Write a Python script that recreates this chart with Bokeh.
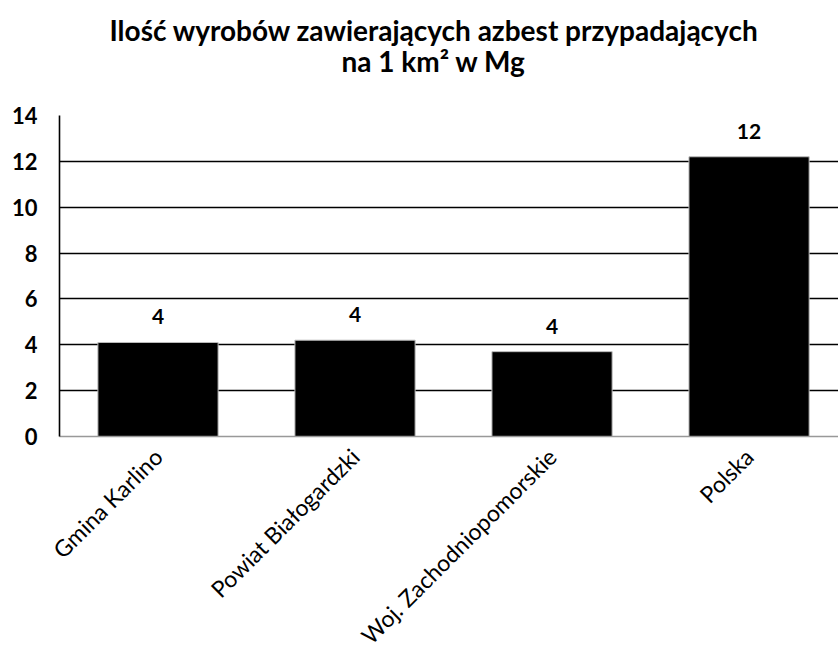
from bokeh.plotting import figure
from bokeh.models import Range1d, ColumnDataSource, Title, FixedTicker, LabelSet
from bokeh.core.properties import value
from bokeh.embed import file_html
from bokeh.resources import INLINE
import math

categories = ["Gmina Karlino", "Powiat Białogardzki", "Woj. Zachodniopomorskie", "Polska"]
values = [4.1, 4.2, 3.7, 12.2]
value_labels = ["4", "4", "4", "12"]
y_ticks = [0, 2, 4, 6, 8, 10, 12, 14]
title_line1 = "Ilość wyrobów zawierających azbest przypadających"
title_line2 = "na 1 km² w Mg"

FONT = "Lato"
xs = list(range(len(categories)))

p = figure(width=838, height=662, output_backend="svg", toolbar_location=None,
           x_range=Range1d(-0.5, 3.454), y_range=Range1d(0, 14),
           min_border_left=59, min_border_right=0, min_border_top=115,
           min_border_bottom=226, title=None)
p.outline_line_color = None

src = ColumnDataSource(dict(x=xs, top=values, lab=value_labels,
                            ly=[v for v in values]))
p.vbar(x="x", top="top", width=0.61, source=src, fill_color="black",
       line_color="#bbbbbb", line_width=1)

labels = LabelSet(x="x", y="ly", text="lab", source=src, text_align="center",
                  text_baseline="bottom", y_offset=18, text_font=value(FONT),
                  text_font_style="bold", text_font_size="21px", text_color="black")
p.add_layout(labels)

# grid
p.xgrid.grid_line_color = None
p.ygrid.ticker = FixedTicker(ticks=y_ticks)
p.ygrid.grid_line_color = "black"
p.ygrid.grid_line_width = 1.6
p.ygrid.grid_line_alpha = 1.0

# y axis
p.yaxis.ticker = FixedTicker(ticks=y_ticks)
p.yaxis.axis_line_color = "black"
p.yaxis.axis_line_width = 1.6
p.yaxis.major_tick_line_color = None
p.yaxis.minor_tick_line_color = None
p.yaxis.major_tick_out = 0
p.yaxis.major_tick_in = 0
p.yaxis.major_label_standoff = 22
p.yaxis.major_label_text_font = FONT
p.yaxis.major_label_text_font_style = "bold"
p.yaxis.major_label_text_font_size = "22px"
p.yaxis.major_label_text_color = "black"

# x axis
p.xaxis.ticker = FixedTicker(ticks=xs)
p.xaxis.major_label_overrides = {i: c for i, c in zip(xs, categories)}
p.xaxis.major_label_orientation = math.pi / 4
p.xaxis.axis_line_color = "#999999"
p.xaxis.axis_line_width = 1.6
p.xaxis.major_tick_line_color = None
p.xaxis.minor_tick_line_color = None
p.xaxis.major_tick_out = 0
p.xaxis.major_tick_in = 0
p.xaxis.major_label_standoff = 16
p.xaxis.major_label_text_font = FONT
p.xaxis.major_label_text_font_size = "23px"
p.xaxis.major_label_text_color = "black"

spacer = Title(text="\u00a0", align="left", text_font=FONT,
               text_font_size="28px", standoff=2)
t2 = Title(text=title_line2, align="left", offset=282, text_font=FONT,
           text_font_style="bold", text_font_size="28px", text_color="black",
           standoff=0)
t1 = Title(text=title_line1, align="left", offset=50, text_font=FONT,
           text_font_style="bold", text_font_size="28px", text_color="black",
           standoff=-10)
p.add_layout(spacer, "above")
p.add_layout(t2, "above")
p.add_layout(t1, "above")

open("out.html", "w").write(file_html(p, INLINE))
